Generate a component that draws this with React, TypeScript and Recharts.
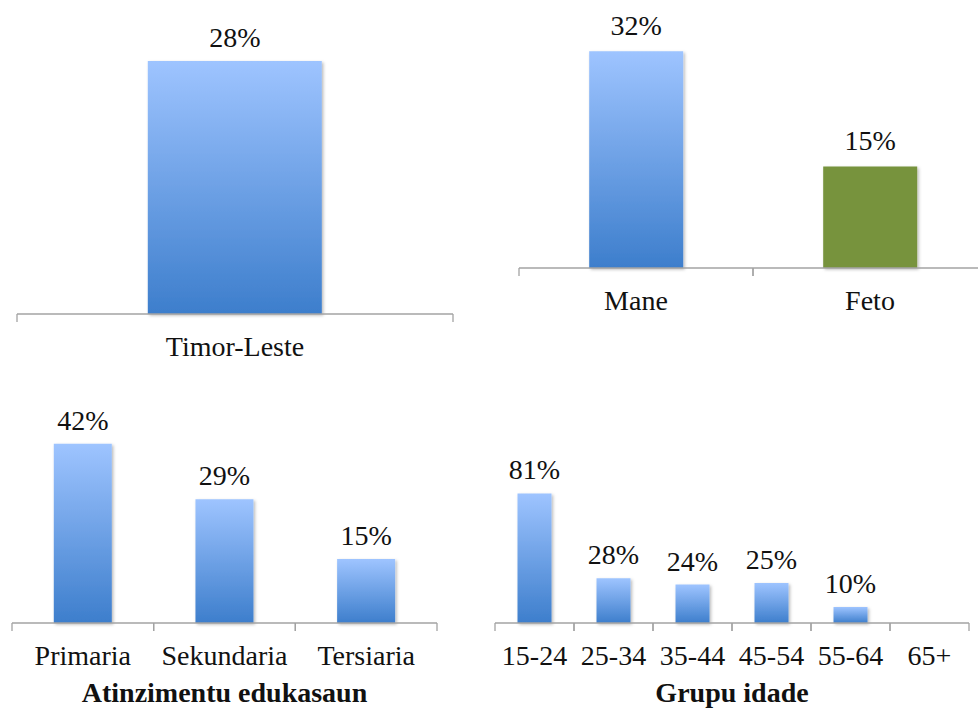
import React from "react";
import { BarChart, Bar, XAxis, YAxis, LabelList, Cell } from "recharts";

// values in percent
const countryCats = ["Timor-Leste"];
const countryVals = [28];

const sexCats = ["Mane", "Feto"];
const sexVals = [32, 15];

const eduCats = ["Primaria", "Sekundaria", "Tersiaria"];
const eduVals = [42, 29, 15];

const ageCats = ["15-24", "25-34", "35-44", "45-54", "55-64", "65+"];
const ageVals: (number | null)[] = [81, 28, 24, 25, 10, null];

const FONT = "'Liberation Serif', 'Times New Roman', serif";
const AXIS = "#a3a3a3";
const GREEN = "#77933C";

const toRows = (cats: string[], vals: (number | null)[]) =>
  cats.map((name, i) => ({ name, value: vals[i] }));

function BoundaryTick(props: any) {
  const { x, y, payload, half } = props;
  const off = payload?.offset ?? half;
  return (
    <g>
      <line x1={x - off} x2={x - off} y1={y} y2={y + 8} stroke={AXIS} strokeWidth={1.3} />
      <line x1={x + off} x2={x + off} y1={y} y2={y + 8} stroke={AXIS} strokeWidth={1.3} />
      <text x={x} y={y + 42} textAnchor="middle" fontFamily={FONT} fontSize={28} fill="#111">
        {payload.value}
      </text>
    </g>
  );
}

const pct = (v: any) => (v == null ? "" : `${v}%`);

function Defs() {
  return (
    <defs>
      <linearGradient id="blueGrad" x1="0" y1="0" x2="0" y2="1">
        <stop offset="0%" stopColor="#9EC4FF" />
        <stop offset="100%" stopColor="#3D7ECC" />
      </linearGradient>
      <filter id="barShadow" x="-20%" y="-20%" width="150%" height="150%">
        <feDropShadow dx="1.5" dy="1.5" stdDeviation="1.5" floodColor="#000" floodOpacity="0.28" />
      </filter>
    </defs>
  );
}

interface PanelProps {
  rows: { name: string; value: number | null }[];
  left: number;
  top: number;
  width: number;
  height: number;
  margin: { top: number; left: number; right: number; bottom: number };
  max: number;
  gap: string;
  axisHeight: number;
  labelOffset?: number;
  title?: string;
  colors?: Record<string, string>;
}

function Panel({ rows, left, top, width, height, margin, max, gap, axisHeight, labelOffset = 14, title, colors }: PanelProps) {
  const plotW = width - margin.left - margin.right;
  const half = plotW / rows.length / 2;
  return (
    <div style={{ position: "absolute", left, top }}>
      <BarChart width={width} height={height} data={rows} margin={margin} barCategoryGap={gap}>
        <Defs />
        <XAxis
          dataKey="name"
          axisLine={{ stroke: AXIS, strokeWidth: 1.3 }}
          tickLine={false}
          tickSize={0}
          tickMargin={0}
          height={axisHeight}
          interval={0}
          tick={<BoundaryTick half={half} />}
          label={
            title
              ? {
                  value: title,
                  position: "insideBottom",
                  offset: 8,
                  fontFamily: FONT,
                  fontSize: 28,
                  fontWeight: 700,
                  fill: "#111",
                }
              : undefined
          }
        />
        <YAxis hide domain={[0, max]} />
        <Bar dataKey="value" isAnimationActive={false} filter="url(#barShadow)">
          {rows.map((r) => (
            <Cell key={r.name} fill={colors?.[r.name] ?? "url(#blueGrad)"} />
          ))}
          <LabelList
            dataKey="value"
            position="top"
            offset={labelOffset}
            formatter={pct}
            style={{ fontFamily: FONT, fontSize: 28, fill: "#111" }}
          />
        </Bar>
      </BarChart>
    </div>
  );
}

export default function App() {
  return (
    <div
      style={{
        position: "absolute",
        left: 0,
        top: 0,
        width: 978,
        height: 710,
        overflow: "hidden",
        background: "#fff",
      }}
    >
      <Panel
        rows={toRows(countryCats, countryVals)}
        left={0}
        top={0}
        width={470}
        height={390}
        margin={{ top: 43, left: 17, right: 17, bottom: 0 }}
        max={30}
        gap="30%"
        axisHeight={76}
      />
      <Panel
        rows={toRows(sexCats, sexVals)}
        left={500}
        top={0}
        width={500}
        height={328}
        margin={{ top: 33, left: 19, right: 13, bottom: 0 }}
        max={34.7}
        gap="30%"
        axisHeight={60}
        labelOffset={16}
        colors={{ Feto: GREEN }}
      />
      <Panel
        rows={toRows(eduCats, eduVals)}
        left={0}
        top={400}
        width={470}
        height={310}
        margin={{ top: 31, left: 12, right: 33, bottom: 0 }}
        max={45}
        gap="29.5%"
        axisHeight={87}
        title="Atinzimentu edukasaun"
      />
      <Panel
        rows={toRows(ageCats, ageVals)}
        left={480}
        top={400}
        width={498}
        height={310}
        margin={{ top: 79, left: 15, right: 9, bottom: 0 }}
        max={90}
        gap="28.5%"
        axisHeight={87}
        title="Grupu idade"
      />
    </div>
  );
}
